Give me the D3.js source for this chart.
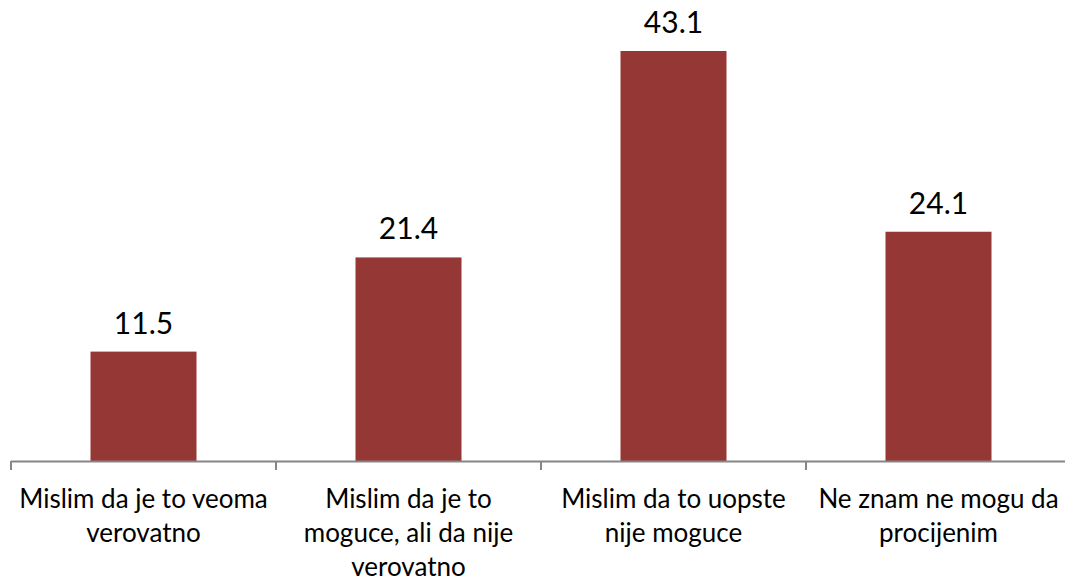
<!DOCTYPE html>
<html>
<head>
<meta charset="utf-8">
<script src="https://cdn.jsdelivr.net/npm/d3@7"></script>
<style>
  html, body { margin: 0; padding: 0; background: #fff; }
  svg { display: block; }
</style>
</head>
<body>
<svg id="chart" width="1065" height="577"></svg>
<script>
const categories = [
  "Mislim da je to veoma verovatno",
  "Mislim da je to moguce, ali da nije verovatno",
  "Mislim da to uopste nije moguce",
  "Ne znam ne mogu da procijenim"
];
const categoryLines = [
  ["Mislim da je to veoma", "verovatno"],
  ["Mislim da je to", "moguce, ali da nije", "verovatno"],
  ["Mislim da to uopste", "nije moguce"],
  ["Ne znam ne mogu da", "procijenim"]
];
const values = [11.5, 21.4, 43.1, 24.1];

const svg = d3.select("#chart");
const baseY = 461, topY = 51;

const x = d3.scaleBand().domain(categories).range([11, 1071]).paddingInner(0.6).paddingOuter(0.3);
const y = d3.scaleLinear().domain([0, d3.max(values)]).range([baseY, topY]);

const font = "Lato, 'Open Sans', sans-serif";

svg.selectAll("rect.bar").data(values).join("rect")
  .attr("class", "bar")
  .attr("x", (d, i) => x(categories[i]))
  .attr("width", x.bandwidth())
  .attr("y", d => y(d))
  .attr("height", d => baseY - y(d))
  .attr("fill", "#953735");

svg.selectAll("text.val").data(values).join("text")
  .attr("class", "val")
  .attr("x", (d, i) => x(categories[i]) + x.bandwidth() / 2)
  .attr("y", d => y(d) - 18)
  .attr("text-anchor", "middle")
  .attr("font-family", font)
  .attr("font-size", 30)
  .attr("fill", "#000")
  .text(d => d.toFixed(1));

// axis
const step = x.step();
const edges = d3.range(categories.length + 1).map(i => 11 + i * step);
svg.append("line")
  .attr("x1", 11).attr("x2", 1065)
  .attr("y1", baseY + 0.5).attr("y2", baseY + 0.5)
  .attr("stroke", "#868686").attr("stroke-width", 2);
svg.selectAll("line.tick").data(edges).join("line")
  .attr("class", "tick")
  .attr("x1", d => Math.round(d)).attr("x2", d => Math.round(d))
  .attr("y1", baseY).attr("y2", baseY + 9)
  .attr("stroke", "#868686").attr("stroke-width", 2);

const labels = svg.selectAll("text.cat").data(categories).join("text")
  .attr("class", "cat")
  .attr("text-anchor", "middle")
  .attr("font-family", font)
  .attr("font-size", 26)
  .attr("fill", "#000");
labels.each(function(d, i) {
  const t = d3.select(this);
  categoryLines[i].forEach((ln, j) => {
    t.append("tspan")
      .attr("x", x(d) + x.bandwidth() / 2)
      .attr("y", 508 + j * 34)
      .text(ln);
  });
});
</script>
</body>
</html>
